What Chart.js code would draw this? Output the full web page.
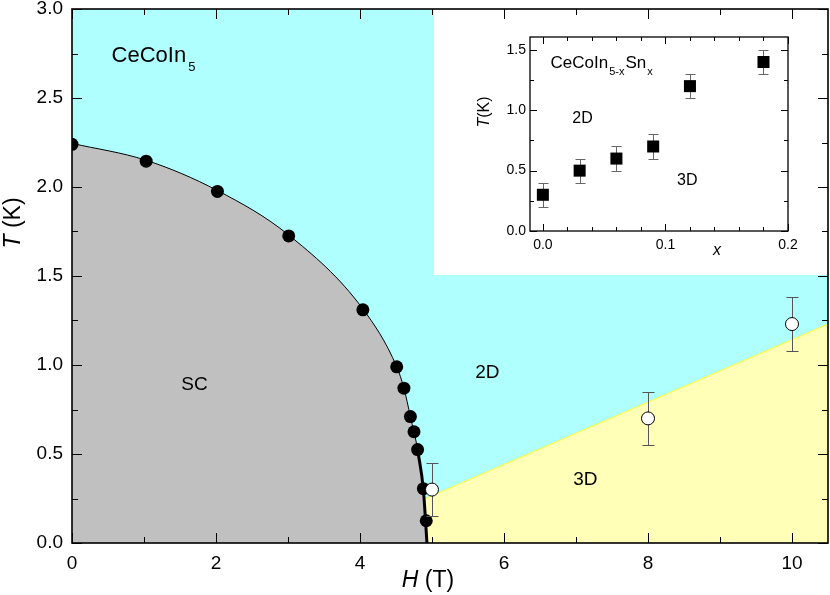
<!DOCTYPE html>
<html>
<head>
<meta charset="utf-8">
<script src="https://cdn.jsdelivr.net/npm/chart.js@4.4.1/dist/chart.umd.min.js"></script>
<style>
  body { margin: 0; background: #fff; }
  #wrap { position: relative; width: 830px; height: 595px; }
  #main { position: absolute; left: 0; top: 0; }
  #inset { position: absolute; left: 434px; top: 9px; }
</style>
</head>
<body>
<div id="wrap">
  <canvas id="main" width="830" height="595"></canvas>
  <canvas id="inset" width="394" height="266"></canvas>
</div>
<script>
// main panel: H (T) vs T (K)
const scH = [0, 1.03, 2.02, 3.01, 4.04, 4.51, 4.61, 4.70, 4.75, 4.80, 4.88, 4.92];
const scT = [2.24, 2.145, 1.975, 1.725, 1.31, 0.99, 0.87, 0.71, 0.625, 0.525, 0.305, 0.125];
// Hc2 boundary line (thin, then thick below ~0.5 K)
const hc2H = [0, 1.03, 2.02, 3.01, 4.04, 4.51, 4.61, 4.70, 4.80, 4.88, 4.93];
const hc2T = [2.245, 2.15, 1.98, 1.73, 1.315, 0.99, 0.87, 0.71, 0.525, 0.3, 0];
const thickFrom = 8;
// 2D / 3D crossover line
const crossH = [4.88, 10.5];
const crossT = [0.245, 1.23];
const openH = [5.0, 8.0, 10.0];
const openT = [0.30, 0.70, 1.23];
const openErr = [0.15, 0.15, 0.15];
const hTicks = [0, 2, 4, 6, 8, 10];
const tTicks = [0.0, 0.5, 1.0, 1.5, 2.0, 2.5, 3.0];

// inset: CeCoIn5-xSnx
const snX = [0, 0.03, 0.06, 0.09, 0.12, 0.18];
const snT = [0.3, 0.5, 0.6, 0.7, 1.2, 1.4];
const snErr = [0.1, 0.1, 0.1, 0.1, 0.1, 0.1];
const xTicksInset = [0.0, 0.1, 0.2];
const tTicksInset = [0.0, 0.5, 1.0, 1.5];

const FONT = "'Liberation Sans', Arial, sans-serif";
const pts = (xs, ys) => xs.map((v, i) => ({ x: v, y: ys[i] }));

// fixed axis size, no overhang padding from the tick labels
const fitTo = (key, size) => s => {
  s[key] = size;
  s.paddingLeft = s.paddingRight = s.paddingTop = s.paddingBottom = 0;
};

function frameTicks(o) {
  return {
    id: 'frameTicks',
    afterDatasetsDraw(chart) {
      const { ctx, chartArea: a, scales: { x, y } } = chart;
      ctx.save();
      ctx.strokeStyle = '#000';
      ctx.lineWidth = 1;
      ctx.beginPath();
      const walk = (scale, minor, fn) => {
        const start = Math.ceil(scale.min / minor - 1e-6);
        for (let n = start; n * minor <= scale.max + 1e-9; n++) {
          const v = n * minor;
          const major = scale.ticks.some(t => Math.abs(t.value - v) < minor / 10);
          fn(Math.round(scale.getPixelForValue(v)) + 0.5, major ? o.major : o.minor);
        }
      };
      walk(x, o.xMinor, (px, len) => {
        ctx.moveTo(px, a.bottom); ctx.lineTo(px, a.bottom - len);
        ctx.moveTo(px, a.top); ctx.lineTo(px, a.top + len);
      });
      walk(y, o.yMinor, (py, len) => {
        ctx.moveTo(a.left, py); ctx.lineTo(a.left + len, py);
        ctx.moveTo(a.right, py); ctx.lineTo(a.right - len, py);
      });
      ctx.stroke();
      ctx.lineWidth = o.frame;
      ctx.strokeRect(a.left, a.top, a.right - a.left, a.bottom - a.top);
      ctx.restore();
    }
  };
}

const errorBars = {
  id: 'errorBars',
  beforeDatasetDraw(chart, args) {
    const ds = chart.data.datasets[args.index];
    if (!ds.errors) return;
    const { ctx, scales: { x, y } } = chart;
    ctx.save();
    ctx.strokeStyle = ds.errorColor;
    ctx.lineWidth = 1;
    ctx.beginPath();
    ds.data.forEach((p, i) => {
      const px = Math.round(x.getPixelForValue(p.x)) + 0.5;
      const top = Math.round(y.getPixelForValue(p.y + ds.errors[i])) + 0.5;
      const bot = Math.round(y.getPixelForValue(p.y - ds.errors[i])) + 0.5;
      ctx.moveTo(px, top); ctx.lineTo(px, bot);
      ctx.moveTo(px - ds.cap, top); ctx.lineTo(px + ds.cap, top);
      ctx.moveTo(px - ds.cap, bot); ctx.lineTo(px + ds.cap, bot);
    });
    ctx.stroke();
    ctx.restore();
  }
};

// text with subscripts, left aligned on baseline
function rich(ctx, parts, x, y) {
  let cx = x;
  parts.forEach(p => {
    ctx.font = (p.italic ? 'italic ' : '') + p.size + 'px ' + FONT;
    ctx.textAlign = 'left';
    ctx.textBaseline = 'alphabetic';
    ctx.fillText(p.t, cx + (p.gap || 0), y + (p.dy || 0));
    cx += ctx.measureText(p.t).width + (p.gap || 0);
  });
  return cx - x;
}
function richWidth(ctx, parts) {
  let w = 0;
  parts.forEach(p => {
    ctx.font = (p.italic ? 'italic ' : '') + p.size + 'px ' + FONT;
    w += ctx.measureText(p.t).width + (p.gap || 0);
  });
  return w;
}

const mainDecor = {
  id: 'mainDecor',
  beforeDatasetsDraw(chart) {
    const { ctx, chartArea: a, scales: { x, y } } = chart;
    ctx.save();
    ctx.fillStyle = 'rgb(175,255,255)';
    ctx.fillRect(a.left, a.top, a.right - a.left, a.bottom - a.top);
    // white panel behind the inset
    const px = Math.round(x.getPixelForValue(5.03));
    const py = Math.round(y.getPixelForValue(1.505));
    ctx.fillStyle = '#fff';
    ctx.fillRect(px, a.top, a.right - px, py - a.top);
    ctx.restore();
  },
  afterDraw(chart) {
    const { ctx, scales: { x, y } } = chart;
    ctx.save();
    ctx.fillStyle = '#000';
    rich(ctx, [{ t: 'CeCoIn', size: 22 }, { t: '5', size: 13, dy: 9, gap: 2 }],
      x.getPixelForValue(0.55), y.getPixelForValue(2.70));
    ctx.font = '19px ' + FONT;
    ctx.textAlign = 'center';
    ctx.textBaseline = 'middle';
    ctx.fillText('SC', x.getPixelForValue(1.70), y.getPixelForValue(0.89));
    ctx.fillText('2D', x.getPixelForValue(5.77), y.getPixelForValue(0.955));
    ctx.fillText('3D', x.getPixelForValue(7.13), y.getPixelForValue(0.355));
    // axis titles
    const hT = [{ t: 'H', size: 23, italic: true }, { t: ' (T)', size: 23 }];
    rich(ctx, hT, 428 - richWidth(ctx, hT) / 2, 587);
    ctx.translate(20, 223);
    ctx.rotate(-Math.PI / 2);
    const tT = [{ t: 'T', size: 23, italic: true }, { t: ' (K)', size: 23 }];
    rich(ctx, tT, -richWidth(ctx, tT) / 2, 0);
    ctx.restore();
  }
};

const insetDecor = {
  id: 'insetDecor',
  afterDraw(chart) {
    const { ctx, scales: { x, y } } = chart;
    ctx.save();
    ctx.fillStyle = '#000';
    rich(ctx, [{ t: 'CeCoIn', size: 17 }, { t: '5-x', size: 11, dy: 7, gap: 1 },
      { t: 'Sn', size: 17, gap: 1 }, { t: 'x', size: 11, dy: 7, gap: 1 }],
      x.getPixelForValue(0.0063), y.getPixelForValue(1.353));
    ctx.font = '16px ' + FONT;
    ctx.textAlign = 'center';
    ctx.textBaseline = 'middle';
    ctx.fillText('2D', x.getPixelForValue(0.0323), y.getPixelForValue(0.932));
    ctx.fillText('3D', x.getPixelForValue(0.1178), y.getPixelForValue(0.42));
    ctx.font = 'italic 16px ' + FONT;
    ctx.fillText('x', 283, 242);
    ctx.translate(55, 103);
    ctx.rotate(-Math.PI / 2);
    const tT = [{ t: 'T', size: 16, italic: true }, { t: '(K)', size: 16 }];
    rich(ctx, tT, -richWidth(ctx, tT) / 2, 0);
    ctx.restore();
  }
};

Chart.defaults.font.family = FONT;
Chart.defaults.color = '#000';

new Chart(document.getElementById('main'), {
  type: 'scatter',
  data: {
    datasets: [
      {
        data: pts(openH, openT), order: 1,
        pointRadius: 6.5, pointBackgroundColor: '#fff', pointBorderColor: '#000', pointBorderWidth: 1,
        errors: openErr, errorColor: '#555', cap: 6
      },
      {
        data: pts(scH, scT), order: 2,
        pointRadius: 6.5, pointBackgroundColor: '#000', pointBorderColor: '#000', pointBorderWidth: 0
      },
      {
        // thick low-temperature part of the boundary
        data: pts(hc2H.slice(thickFrom), hc2T.slice(thickFrom)), order: 3, showLine: true, pointRadius: 0,
        cubicInterpolationMode: 'monotone',
        borderColor: '#000', borderWidth: 3, fill: false
      },
      {
        data: pts(hc2H, hc2T), order: 4, showLine: true, pointRadius: 0,
        cubicInterpolationMode: 'monotone',
        borderColor: '#000', borderWidth: 1,
        fill: 'origin', backgroundColor: 'rgb(192,192,192)'
      },
      {
        data: pts(crossH, crossT), order: 5, showLine: true, pointRadius: 0,
        borderColor: 'rgb(255,255,40)', borderWidth: 1,
        fill: 'origin', backgroundColor: 'rgb(255,255,183)'
      }
    ]
  },
  options: {
    responsive: false,
    animation: false,
    devicePixelRatio: 1,
    layout: { autoPadding: false, padding: { left: 0, right: 2, top: 9, bottom: 0 } },
    plugins: { legend: { display: false }, tooltip: { enabled: false } },
    scales: {
      x: {
        type: 'linear', min: 0, max: 10.5,
        grid: { display: false, drawTicks: false },
        border: { display: false },
        afterBuildTicks: s => { s.ticks = hTicks.map(v => ({ value: v })); },
        afterFit: fitTo('height', 52),
        ticks: { padding: 9, font: { size: 19 }, callback: v => String(v) }
      },
      y: {
        type: 'linear', min: 0, max: 3,
        grid: { display: false, drawTicks: false },
        border: { display: false },
        afterBuildTicks: s => { s.ticks = tTicks.map(v => ({ value: v })); },
        afterFit: fitTo('width', 72),
        ticks: { padding: 9, font: { size: 19 }, callback: v => v.toFixed(1) }
      }
    }
  },
  plugins: [mainDecor, errorBars, frameTicks({ xMinor: 1, yMinor: 0.25, major: 10, minor: 6, frame: 1.6 })]
});

new Chart(document.getElementById('inset'), {
  type: 'scatter',
  data: {
    datasets: [{
      data: pts(snX, snT),
      pointStyle: 'rect', pointRadius: 8.5,
      pointBackgroundColor: '#000', pointBorderColor: '#000', pointBorderWidth: 0,
      errors: snErr, errorColor: '#666', cap: 5
    }]
  },
  options: {
    responsive: false,
    animation: false,
    devicePixelRatio: 1,
    layout: { autoPadding: false, padding: { left: 0, right: 40, top: 28, bottom: 0 } },
    plugins: { legend: { display: false }, tooltip: { enabled: false } },
    scales: {
      x: {
        type: 'linear', min: -0.0105, max: 0.2,
        grid: { display: false, drawTicks: false },
        border: { display: false },
        afterBuildTicks: s => { s.ticks = xTicksInset.map(v => ({ value: v })); },
        afterFit: fitTo('height', 44),
        ticks: { padding: 6, font: { size: 14 }, callback: v => v.toFixed(1) }
      },
      y: {
        type: 'linear', min: 0, max: 1.607,
        grid: { display: false, drawTicks: false },
        border: { display: false },
        afterBuildTicks: s => { s.ticks = tTicksInset.map(v => ({ value: v })); },
        afterFit: fitTo('width', 96),
        ticks: { padding: 4, font: { size: 14 }, callback: v => v.toFixed(1) }
      }
    }
  },
  plugins: [errorBars, insetDecor, frameTicks({ xMinor: 0.02, yMinor: 0.25, major: 7, minor: 4, frame: 1.3 })]
});
</script>
</body>
</html>
